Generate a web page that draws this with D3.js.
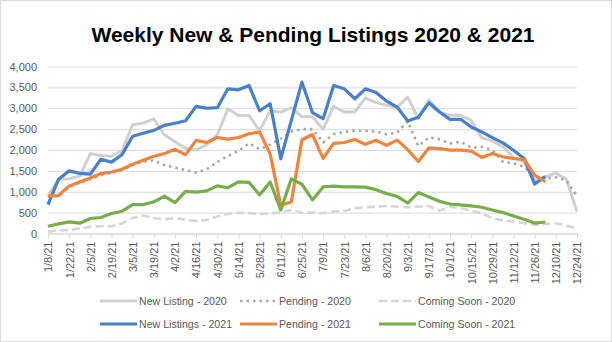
<!DOCTYPE html>
<meta charset="utf-8">
<style>
body { margin: 0; background: #fff; }
text { font-family: "Liberation Sans", Arial, sans-serif; }
.axis text { fill: #595959; font-size: 11px; }
.legend text { fill: #595959; font-size: 10.6px; }
</style>
<svg id="chart" width="612" height="342"></svg>
<script src="https://cdn.jsdelivr.net/npm/d3@7"></script>
<script>

var weeks = ["1/8/21","1/15/21","1/22/21","1/29/21","2/5/21","2/12/21","2/19/21","2/26/21",
  "3/5/21","3/12/21","3/19/21","3/26/21","4/2/21","4/9/21","4/16/21","4/23/21","4/30/21",
  "5/7/21","5/14/21","5/21/21","5/28/21","6/4/21","6/11/21","6/18/21","6/25/21","7/2/21",
  "7/9/21","7/16/21","7/23/21","7/30/21","8/6/21","8/13/21","8/20/21","8/27/21","9/3/21",
  "9/10/21","9/17/21","9/24/21","10/1/21","10/8/21","10/15/21","10/22/21","10/29/21",
  "11/5/21","11/12/21","11/19/21","11/26/21","12/3/21","12/10/21","12/17/21","12/24/21"];

var newListing2020 = [900,1294,1310,1374,1913,1866,1850,1985,2604,2644,2747,2366,2200,2040,2000,2128,
  2366,2985,2827,2827,2461,2938,2906,3017,2800,2790,2500,3045,2910,2910,3244,3140,3070,3025,3265,
  2755,3195,2915,2830,2830,2711,2297,2218,2075,1820,1717,1264,1360,1445,1300,520];
var pending2020 = [880,900,1120,1220,1300,1400,1450,1520,1640,1720,1750,1640,1580,1520,1460,1540,
  1710,1855,1980,2160,2020,2130,2270,2440,2500,2500,2180,2380,2430,2460,2460,2443,2375,2415,2690,
  2095,2302,2254,2159,2198,2059,2075,1995,1717,1677,1598,1360,1320,1345,1270,890];
var comingSoon2020 = [40,80,80,127,159,175,175,238,370,430,370,340,370,330,300,326,405,469,500,485,
  469,485,500,564,500,500,485,525,541,604,628,640,660,644,628,644,660,548,640,604,548,485,366,310,
  286,246,207,230,246,183,127];
var newListings2021 = [690,1300,1500,1440,1420,1780,1710,1890,2330,2400,2470,2590,2640,2700,3045,3000,
  3013,3466,3442,3546,2940,3108,1790,2711,3625,2894,2750,3546,3466,3228,3466,3379,3172,3029,2695,
  2785,3130,2910,2735,2735,2552,2433,2297,2170,1995,1797,1185,1362];
var pending2021 = [893,909,1140,1235,1331,1435,1474,1538,1658,1753,1849,1913,2016,1890,2230,2180,
  2300,2260,2300,2390,2430,1900,670,760,2245,2370,1800,2160,2180,2250,2135,2234,2110,2236,2010,1725,
  2050,2035,1998,1995,1971,1821,1916,1837,1797,1773,1400,1240];
var comingSoon2021 = [175,231,279,247,359,383,478,534,693,693,757,893,740,1010,990,1020,1140,1096,1235,
  1225,925,1235,560,1310,1180,805,1115,1135,1115,1115,1110,1050,960,890,730,980,875,770,707,684,660,
  628,564,501,421,342,250,275];

var yTicks = [0,500,1000,1500,2000,2500,3000,3500,4000];

var seriesNames = ["New Listing - 2020","Pending - 2020","Coming Soon - 2020",
  "New Listings - 2021","Pending - 2021","Coming Soon - 2021"];
var seriesValues = [newListing2020,pending2020,comingSoon2020,newListings2021,pending2021,comingSoon2021];
var seriesColors = ["#d0d0d0","#a9a9a9","#d6d6d6","#4a7fc9","#f0843c","#78ae4a"];
var seriesDash = [null,"2.5,4","8,4",null,null,null];
var seriesWidth = [3,2.6,2.6,3.2,3.2,3.2];

var svg = d3.select("#chart"),
    width = +svg.attr("width"),
    height = +svg.attr("height");

svg.append("rect")
  .attr("x",0.5).attr("y",0.5)
  .attr("width",width-1).attr("height",height-1)
  .attr("fill","#fff").attr("stroke","#d9d9d9");

svg.append("text")
  .attr("x",313).attr("y",42)
  .attr("text-anchor","middle")
  .style("font-size","21px")
  .style("font-weight","bold")
  .attr("fill","#000")
  .text("Weekly New & Pending Listings 2020 & 2021");

var x = d3.scalePoint().domain(weeks).range([48,577]);
var y = d3.scaleLinear().domain([0,4000]).range([233.5,66.5]);

// gridlines + y labels
var yAxis = svg.append("g")
  .attr("class","axis")
  .attr("transform","translate(48,0)")
  .call(d3.axisLeft(y).tickValues(yTicks).tickSize(-529).tickPadding(11).tickFormat(d3.format(",")));
yAxis.select(".domain").remove();
yAxis.selectAll("line").attr("stroke","#d9d9d9");

// x axis
var xAxis = svg.append("g")
  .attr("class","axis")
  .attr("transform","translate(0,233.5)")
  .call(d3.axisBottom(x).tickValues(weeks.filter(function(d,i){ return i%2==0; })).tickSize(5).tickSizeOuter(0));
xAxis.select(".domain").attr("stroke","#d9d9d9");
xAxis.selectAll("line").attr("stroke","#d9d9d9");
xAxis.selectAll("text")
  .attr("transform","rotate(-90)")
  .attr("text-anchor","end")
  .attr("x",-8).attr("y",0).attr("dy","0.35em");

var line = d3.line()
  .x(function(d,i){ return x(weeks[i]); })
  .y(function(d){ return y(d); });

seriesValues.forEach(function(vals,k){
  svg.append("path")
    .datum(vals)
    .attr("d",line)
    .attr("fill","none")
    .attr("stroke",seriesColors[k])
    .attr("stroke-width",seriesWidth[k])
    .attr("stroke-linejoin","round")
    .attr("stroke-dasharray",seriesDash[k]);
});

// legend
var legX = [100,240,379], legY = [301,324];
var legend = svg.append("g").attr("class","legend");
seriesNames.forEach(function(name,k){
  var lx = legX[k%3], ly = legY[Math.floor(k/3)];
  legend.append("line")
    .attr("x1",lx).attr("x2",lx+37).attr("y1",ly).attr("y2",ly)
    .attr("stroke",seriesColors[k])
    .attr("stroke-width",seriesWidth[k])
    .attr("stroke-dasharray",seriesDash[k]);
  legend.append("text")
    .attr("x",lx+39).attr("y",ly).attr("dy","0.35em")
    .text(name);
});

</script>
